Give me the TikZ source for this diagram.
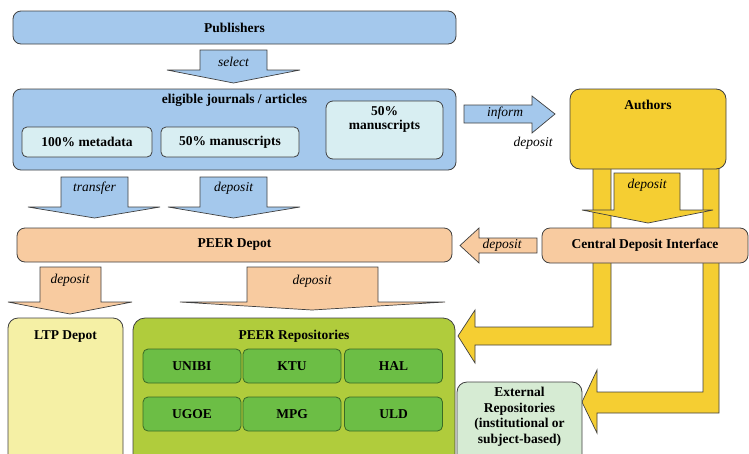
\documentclass[tikz,border=0pt]{standalone}
\usepackage{fontspec}
\setmainfont{Liberation Serif}
\usetikzlibrary{positioning}
\definecolor{cBlue}{HTML}{A4C8EC}
\definecolor{clBlue}{HTML}{D8EEF2}
\definecolor{cYellow}{HTML}{F5CE32}
\definecolor{clYellow}{HTML}{F5F0A5}
\definecolor{cPeach}{HTML}{F8CBA0}
\definecolor{cGreen}{HTML}{B0CC3C}
\definecolor{cdGreen}{HTML}{6CBE45}
\definecolor{cbGreen}{HTML}{3A6A25}
\definecolor{clGreen}{HTML}{D6EBD3}
\definecolor{cGray}{HTML}{404040}
\tikzset{
	box/.style={draw=cGray, line width=0.8pt, rounded corners=8pt, inner sep=0pt, font=\bfseries},
	repo/.style={box, fill=cdGreen, draw=cbGreen, rounded corners=5pt, minimum width=98, minimum height=34},
	arr/.style={draw=cGray, line width=0.7pt},
	lbl/.style={font=\itshape, inner sep=0pt},
	ttl/.style={font=\bfseries, inner sep=0pt}
}

\begin{document}
\fontsize{13.5}{15.5}\selectfont
\begin{tikzpicture}[x=1pt, y=-1pt]
		\useasboundingbox (0,0) rectangle (749,453);
		\clip (0,0) rectangle (749,453);
		
		%publishers and journals
		\node [box, fill=cBlue, minimum width=443, minimum height=33] (publishers) at (234.5,27.5) {Publishers};
		\draw [arr, fill=cBlue] (200,50) -- (267,50) -- (267,70) -- (300,70) -- (233.5,83) -- (167,70) -- (200,70) -- cycle;
		\node [lbl] (select) at (233.5,62) {select};
		
		\node [box, fill=cBlue, minimum width=443, minimum height=81] (eligible) at (234.5,129.5) {};
		\node [ttl] (eligibletitle) at ([yshift=-12]eligible.north) {eligible journals / articles};
		\node [box, fill=clBlue, rounded corners=5pt, minimum width=130, minimum height=30] (metadata) at (87,142) {100\% metadata};
		\node [box, fill=clBlue, rounded corners=5pt, minimum width=138, minimum height=30] (manuA) at (230,142) {50\% manuscripts};
		\node [box, fill=clBlue, rounded corners=7pt, minimum width=117, minimum height=58] (manuB) at (384.5,130) {};
		\node [ttl, align=center] (manuBtitle) at ([yshift=-19]manuB.north) {50\%\\[-1.5pt]manuscripts};
		
		%inform
		\draw [arr, fill=cBlue] (464,105) -- (532,105) -- (532,96) -- (555,114) -- (532,133) -- (532,123) -- (464,123) -- cycle;
		\node [lbl] (inform) at (505,113) {inform};
		\node [lbl] (informdeposit) at (533,143) {deposit};
		
		%authors with yellow paths
		\draw [arr, fill=cYellow] (593,160) -- (593,327) -- (475,327) -- (475,310) -- (458,336) -- (475,363) -- (475,345) -- (611,345) -- (611,160) -- cycle;
		\draw [arr, fill=cYellow] (703,160) -- (703,392) -- (597,392) -- (597,370) -- (582,402) -- (597,433) -- (597,413) -- (719,413) -- (719,160) -- cycle;
		\node [box, fill=cYellow, rounded corners=10pt, minimum width=156, minimum height=80] (authors) at (648,129) {};
		\node [ttl] (authorstitle) at ([yshift=-16]authors.north) {Authors};
		\draw [arr, fill=cYellow] (614,173) -- (680,173) -- (680,210) -- (713,210) -- (648,223) -- (582,210) -- (614,210) -- cycle;
		\node [lbl] (authdeposit) at (647,185) {deposit};
		
		%central deposit interface
		\node [box, fill=cPeach, minimum width=206, minimum height=35] (cdi) at (645,245.5) {Central Deposit Interface};
		\draw [arr, fill=cPeach] (537,238) -- (479,238) -- (479,228) -- (460,245.5) -- (479,263) -- (479,253) -- (537,253) -- cycle;
		\node [lbl] (cdideposit) at (502,245) {deposit};
		
		%transfer and deposit
		\draw [arr, fill=cBlue] (61,177) -- (128,177) -- (128,207) -- (160,207) -- (94.5,218) -- (28,207) -- (61,207) -- cycle;
		\node [lbl] (transfer) at (94.5,188) {transfer};
		\draw [arr, fill=cBlue] (200,177) -- (267,177) -- (267,207) -- (300,207) -- (233.5,218) -- (168,207) -- (200,207) -- cycle;
		\node [lbl] (journaldeposit) at (233.5,188) {deposit};
		
		%peer depot
		\node [box, fill=cPeach, minimum width=435, minimum height=34] (depot) at (234.5,245) {PEER Depot};
		\draw [arr, fill=cPeach] (40,267) -- (101,267) -- (101,302) -- (132,302) -- (70,314) -- (8,302) -- (40,302) -- cycle;
		\node [lbl] (ltpdeposit) at (70,280) {deposit};
		\draw [arr, fill=cPeach] (247,267) -- (378,267) -- (378,302) -- (445,302) -- (312,310) -- (180,302) -- (247,302) -- cycle;
		\node [lbl] (repodeposit) at (312,281) {deposit};
		
		%ltp depot
		\node [box, fill=clYellow, rounded corners=10pt, minimum width=115, minimum height=152] (ltp) at (65.5,394) {};
		\node [ttl] (ltptitle) at ([yshift=-19]ltp.north) {LTP Depot};
		
		%peer repositories
		\node [box, fill=cGreen, rounded corners=12pt, minimum width=322, minimum height=152] (repos) at (294,394) {};
		\node [ttl] (repostitle) at ([yshift=-19]repos.north) {PEER Repositories};
		\foreach \n/\x/\y in {UNIBI/192/366, KTU/292/366, HAL/393.5/366, UGOE/192/414, MPG/292/414, ULD/393.5/414}
		{
			\node [repo] (\n) at (\x,\y) {\n};
		}
		
		%external repositories
		\node [box, fill=clGreen, rounded corners=10pt, minimum width=125, minimum height=88] (external) at (519.5,426) {};
		\node [ttl, align=center] (externaltitle) at ([yshift=-35]external.north) {External\\Repositories\\(institutional or\\subject-based)};
		
		\end{tikzpicture}
\end{document}
